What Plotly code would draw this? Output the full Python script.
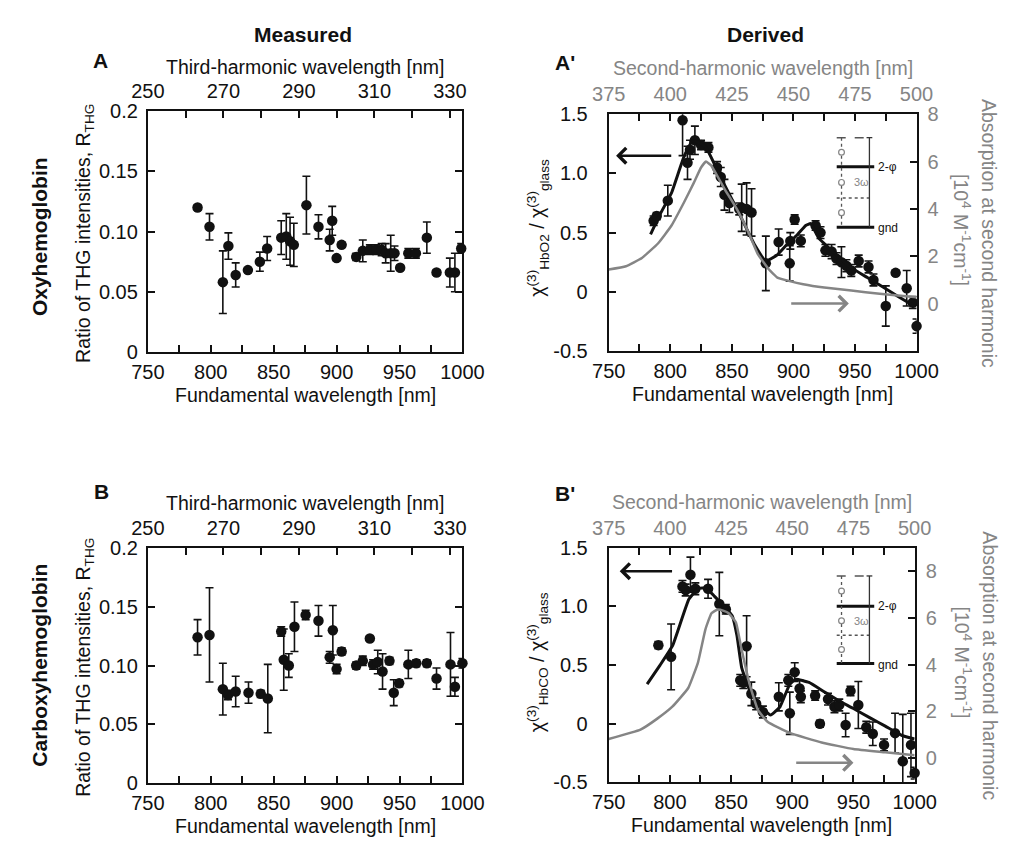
import plotly.graph_objects as go

W, H = 1029, 848
def px(x):
    return x / W
def py(y):
    return 1 - y / H

FONT = "Liberation Sans, Arial, Helvetica, sans-serif"
GRAY = "#858585"
BLACK = "#111111"
TICK = 20
TITLE = 19.5

# ---------------- data ----------------
# Panel A : oxyhemoglobin, measured THG ratio
oxy_fund = [789.5, 799, 809.6, 814, 819.8, 829.5, 839, 844.8, 856, 860, 863, 866, 876,
            885.6, 894.5, 896.5, 900, 904, 915.6, 920.8, 926.4, 931.5, 935.8, 939, 943,
            946, 950.5, 957, 963, 971.7, 979.4, 990, 994, 999]
oxy_ratio = [0.120, 0.104, 0.058, 0.088, 0.064, 0.068, 0.075, 0.086, 0.095, 0.096, 0.092,
             0.089, 0.122, 0.104, 0.093, 0.109, 0.078, 0.089, 0.079, 0.084, 0.085, 0.085,
             0.085, 0.082, 0.082, 0.082, 0.070, 0.082, 0.082, 0.095, 0.066, 0.066, 0.066, 0.086]
oxy_err = [0.002, 0.011, 0.026, 0.011, 0.010, 0.002, 0.008, 0.010, 0.014, 0.019, 0.020,
           0.018, 0.024, 0.010, 0.009, 0.012, 0.002, 0.002, 0.003, 0.009, 0.004, 0.004,
           0.005, 0.008, 0.015, 0.006, 0.002, 0.004, 0.004, 0.013, 0.002, 0.012, 0.016, 0.004]

# Panel B : carboxyhemoglobin, measured THG ratio
co_fund = [789.5, 799, 809.6, 813.7, 819.8, 830, 839.7, 845.3, 856, 858, 862, 866.5, 875.4,
           885.6, 894.5, 897, 900, 904, 915.6, 920.8, 926.4, 929, 932.7, 936.5, 942, 945.4,
           949.7, 957, 963.3, 971.7, 979.4, 990.5, 994, 1000]
co_ratio = [0.124, 0.126, 0.080, 0.075, 0.078, 0.077, 0.076, 0.072, 0.129, 0.105, 0.100,
            0.133, 0.143, 0.138, 0.107, 0.130, 0.097, 0.112, 0.100, 0.104, 0.123, 0.101,
            0.103, 0.095, 0.104, 0.077, 0.085, 0.101, 0.102, 0.102, 0.089, 0.101, 0.082, 0.102]
co_err = [0.015, 0.040, 0.022, 0.004, 0.013, 0.009, 0.003, 0.029, 0.004, 0.026, 0.010,
          0.021, 0.004, 0.013, 0.005, 0.021, 0.004, 0.003, 0.003, 0.004, 0.002, 0.004,
          0.010, 0.015, 0.003, 0.011, 0.003, 0.012, 0.003, 0.003, 0.009, 0.027, 0.008, 0.004]

# Panel A' : chi(3) HbO2 / chi(3) glass
oxy_chi_fund = [786.5, 789, 798, 810, 814, 816, 820, 825, 831, 838, 841, 844, 848, 856, 858,
                862, 866, 877.6, 888, 897, 897.5, 901, 906, 918, 922, 926, 931, 935, 939,
                943, 947, 953, 961, 965, 975, 983, 992, 997, 1000]
oxy_chi = [0.60, 0.64, 0.77, 1.45, 1.09, 1.20, 1.28, 1.24, 1.22, 1.05, 0.97, 0.82, 0.75,
           0.70, 0.71, 0.70, 0.67, 0.24, 0.42, 0.24, 0.43, 0.61, 0.43, 0.56, 0.50, 0.35,
           0.34, 0.28, 0.25, 0.22, 0.18, 0.26, 0.21, 0.10, -0.12, 0.16, 0.03, -0.09, -0.29]
oxy_chi_err = [0.04, 0.03, 0.13, 0.30, 0.14, 0.08, 0.12, 0.04, 0.04, 0.05, 0.08, 0.13, 0.08,
               0.05, 0.20, 0.22, 0.20, 0.23, 0.11, 0.15, 0.07, 0.04, 0.05, 0.04, 0.05, 0.05,
               0.06, 0.05, 0.13, 0.05, 0.05, 0.05, 0.05, 0.05, 0.17, 0.02, 0.15, 0.05, 0.06]
oxy_fit_fund = [784, 792, 801, 811, 818, 823, 829, 842, 855.5, 868.5, 877.6, 886.7, 894.5,
                903, 910, 914, 920.6, 933, 946.6, 960, 972.7, 985, 998.7]
oxy_fit = [0.485, 0.66, 0.836, 1.138, 1.275, 1.26, 1.22, 0.946, 0.67, 0.397, 0.26, 0.31,
           0.397, 0.48, 0.56, 0.576, 0.453, 0.33, 0.206, 0.12, 0.04, -0.04, -0.125]
oxy_abs_fund = [750, 764, 777, 790, 801, 811, 819, 825, 829, 833, 836, 844, 854, 864, 871,
                880, 887, 897, 908, 925, 947, 970, 1000]
oxy_abs = [1.44, 1.58, 1.93, 2.54, 3.30, 4.26, 5.09, 5.75, 6.00, 5.85, 5.60, 4.85, 4.00,
           2.95, 2.10, 1.45, 1.10, 0.95, 0.82, 0.68, 0.55, 0.42, 0.27]

# Panel B' : chi(3) HbCO / chi(3) glass
co_chi_fund = [790.6, 801, 810.3, 812.9, 816.8, 820.8, 831.2, 840.4, 845.7, 857.5, 860,
               862.7, 866.6, 870.5, 876, 889, 896.8, 898, 902, 906, 907, 918.7, 922.6,
               929.2, 934.5, 938.4, 943.6, 947.6, 954, 960.5, 965.8, 975, 984, 990.3, 997, 1000]
co_chi = [0.67, 0.57, 1.17, 1.14, 1.27, 1.15, 1.15, 1.02, 0.975, 0.37, 0.35, 0.66, 0.255,
          0.17, 0.10, 0.23, 0.37, 0.09, 0.44, 0.30, 0.23, 0.24, 0.0, 0.21, 0.145, 0.16,
          -0.01, 0.28, 0.16, -0.03, -0.085, -0.18, -0.08, -0.32, -0.18, -0.42]
co_chi_err = [0.03, 0.28, 0.05, 0.05, 0.15, 0.05, 0.08, 0.27, 0.04, 0.05, 0.05, 0.26, 0.10,
              0.05, 0.05, 0.12, 0.05, 0.18, 0.08, 0.07, 0.05, 0.04, 0.03, 0.05, 0.05, 0.05,
              0.10, 0.04, 0.20, 0.05, 0.10, 0.05, 0.17, 0.40, 0.27, 0.05]
co_fit_fund = [781.4, 792, 802.4, 815.5, 823.4, 830, 836.5, 844.3, 850.9, 854.8, 858.7,
               865.3, 871.9, 882.3, 890, 898, 903, 913.7, 925, 937.4, 950, 963.6, 976,
               989.8, 1000]
co_fit = [0.338, 0.50, 0.67, 1.06, 1.154, 1.154, 1.085, 1.0, 0.92, 0.753, 0.477, 0.283,
          0.172, 0.075, 0.145, 0.338, 0.38, 0.352, 0.28, 0.2, 0.13, 0.05, -0.02, -0.1, -0.13]
co_abs_fund = [750, 776, 790, 802, 815, 823, 829, 834, 839, 844, 848, 854, 858, 865, 872,
               880, 898, 924, 950, 976, 1000]
co_abs = [0.82, 1.22, 1.70, 2.20, 3.00, 4.10, 5.50, 6.20, 6.36, 6.30, 6.20, 5.80, 4.80,
          3.20, 2.05, 1.55, 1.08, 0.67, 0.39, 0.25, 0.12]

# tick labels
ratio_ticks = [0, 0.05, 0.10, 0.15, 0.2]
ratio_text = ["0", "0.05", "0.10", "0.15", "0.2"]
chi_ticks = [-0.5, 0, 0.5, 1.0, 1.5]
chi_text = ["-0.5", "0", "0.5", "1.0", "1.5"]
abs_ticks = [0, 2, 4, 6, 8]

# ---------------- figure ----------------
fig = go.Figure()

def points(x, y, e, xa, ya):
    fig.add_trace(go.Scatter(x=x, y=y, mode="markers", xaxis=xa, yaxis=ya,
                             marker=dict(size=10, color=BLACK, opacity=0),
                             error_y=dict(type="data", array=e, color=BLACK,
                                          thickness=1.6, width=4),
                             showlegend=False, hoverinfo="skip"))
    fig.add_trace(go.Scatter(x=x, y=y, mode="markers", xaxis=xa, yaxis=ya,
                             marker=dict(size=10.5, color=BLACK), cliponaxis=False,
                             showlegend=False))

def line(x, y, xa, ya, color, width):
    fig.add_trace(go.Scatter(x=x, y=y, mode="lines", xaxis=xa, yaxis=ya,
                             line=dict(color=color, width=width, shape="spline", smoothing=0.35),
                             showlegend=False))

def empty(xa, ya):
    fig.add_trace(go.Scatter(x=[], y=[], xaxis=xa, yaxis=ya, showlegend=False))

# A
points(oxy_fund, oxy_ratio, oxy_err, "x", "y")
empty("x2", "y")
# A'
line(oxy_abs_fund, oxy_abs, "x3", "y3", GRAY, 2.5)
points(oxy_chi_fund, oxy_chi, oxy_chi_err, "x3", "y2")
line(oxy_fit_fund, oxy_fit, "x3", "y2", BLACK, 3)
empty("x4", "y2")
# B
points(co_fund, co_ratio, co_err, "x5", "y4")
empty("x6", "y4")
# B'
line(co_abs_fund, co_abs, "x7", "y6", GRAY, 2.5)
points(co_chi_fund, co_chi, co_chi_err, "x7", "y5")
line(co_fit_fund, co_fit, "x7", "y5", BLACK, 3)
empty("x8", "y5")

def ax(**kw):
    d = dict(showline=True, linecolor=BLACK, linewidth=2, ticks="inside", ticklen=7,
             tickwidth=1.5, tickcolor=BLACK, showgrid=False, zeroline=False,
             tickfont=dict(family=FONT, size=TICK, color=BLACK), fixedrange=True)
    d.update(kw)
    return d

def minor(step):
    return dict(ticks="inside", ticklen=7, tickwidth=1.5, tickcolor=BLACK, dtick=step,
                showgrid=False)

def bottom(dom, anchor):
    return ax(domain=[px(dom[0]), px(dom[1])], anchor=anchor, range=[750, 1000],
              tick0=750, dtick=50, minor=minor(25), ticklabelstandoff=1)

def top_th(over, anchor):
    return ax(overlaying=over, anchor=anchor, side="top", range=[250, 1000 / 3],
              tick0=250, dtick=20, minor=minor(10), ticklabelstandoff=3)

def top_sh(over, anchor):
    return ax(overlaying=over, anchor=anchor, side="top", range=[375, 500],
              tick0=375, dtick=25, minor=minor(12.5), ticklabelstandoff=3,
              tickfont=dict(family=FONT, size=TICK, color=GRAY))

def left_ratio(dom, anchor):
    return ax(domain=[py(dom[1]), py(dom[0])], anchor=anchor, range=[0, 0.2],
              tickvals=ratio_ticks, ticktext=ratio_text, mirror="ticks", ticklabelstandoff=4)

def left_chi(dom, anchor):
    return ax(domain=[py(dom[1]), py(dom[0])], anchor=anchor, range=[-0.5, 1.5],
              tickvals=chi_ticks, ticktext=chi_text, ticklabelstandoff=15)

def right_abs(over, anchor, rng):
    return ax(overlaying=over, anchor=anchor, side="right", range=rng,
              tickvals=abs_ticks, ticklabelstandoff=5,
              tickfont=dict(family=FONT, size=TICK, color=GRAY))

A = (136, 463, 103, 350)
AP = (615, 935, 106, 349)
B = (136, 463, 551, 793)
BP = (615, 933, 551, 792)

fig.update_layout(
    xaxis=bottom(A[:2], "y"), xaxis2=top_th("x", "y"), yaxis=left_ratio(A[2:], "x"),
    xaxis3=bottom(AP[:2], "y2"), xaxis4=top_sh("x3", "y2"),
    yaxis2=left_chi(AP[2:], "x3"), yaxis3=right_abs("y2", "x3", [-2, 8]),
    xaxis5=bottom(B[:2], "y4"), xaxis6=top_th("x5", "y4"), yaxis4=left_ratio(B[2:], "x5"),
    xaxis7=bottom(BP[:2], "y5"), xaxis8=top_sh("x7", "y5"),
    yaxis5=left_chi(BP[2:], "x7"), yaxis6=right_abs("y5", "x7", [-1.04, 9.0]),
)

ann = []
def text(t, x, y, size=TITLE, color=BLACK, bold=False, angle=0, xanchor="center"):
    if bold:
        t = "<b>" + t + "</b>"
    ann.append(dict(text=t, x=px(x), y=py(y), xref="paper", yref="paper", showarrow=False,
                    xanchor=xanchor, yanchor="middle", textangle=angle,
                    font=dict(family=FONT, size=size, color=color)))

# headers
text("Measured", 297, 24, size=21, bold=True)
text("Derived", 778, 24, size=21, bold=True)
text("Oxyhemoglobin", 24, 232, size=21, bold=True, angle=-90)
text("Carboxyhemoglobin", 23, 672, size=21, bold=True, angle=-90)
text("A", 87, 51, size=21, bold=True)
text("A'", 570, 53, size=21, bold=True)
text("B", 88, 493, size=21, bold=True)
text("B'", 570, 495, size=21, bold=True)

# axis titles
for (x0, x1, y0, y1), kind in [(A, "th"), (B, "th"), (AP, "sh"), (BP, "sh")]:
    cx = (x0 + x1) / 2
    cy = (y0 + y1) / 2
    if kind == "th":
        text("Third-harmonic wavelength [nm]", cx, y0 - 46)
        text("Ratio of THG intensities, R<sub>THG</sub>", 70, cy + 2, angle=-90)
    else:
        text("Second-harmonic wavelength [nm]", cx, y0 - 47, color=GRAY)
        text("Absorption at second harmonic", 1011, cy + 1, color=GRAY, angle=90)
        text("[10<sup>4</sup> M<sup>-1</sup>cm<sup>-1</sup>]", 983, cy - 3, color=GRAY, angle=90)
    text("Fundamental wavelength [nm]", cx, y1 + 44)

text("χ<sup>(3)</sup><sub>HbO2</sub> / χ<sup>(3)</sup><sub>glass</sub>", 541, 222, angle=-90)
text("χ<sup>(3)</sup><sub>HbCO</sub> / χ<sup>(3)</sup><sub>glass</sub>", 541, 668, angle=-90)

# arrows indicating which axis each curve belongs to
def arrow(x_tail, x_head, yv, xa, ya, color):
    ann.append(dict(x=x_head, y=yv, ax=x_tail, ay=yv, xref=xa, yref=ya, axref=xa, ayref=ya,
                    text="", showarrow=True, arrowhead=4, arrowsize=1.2, arrowwidth=2.5,
                    arrowcolor=color))
arrow(802, 756, 1.15, "x3", "y2", BLACK)
arrow(897, 945, 0.0, "x3", "y3", GRAY)
arrow(803, 759, 1.30, "x7", "y5", BLACK)
arrow(902, 950, -0.2, "x7", "y6", GRAY)

# energy-level inset
shapes = []
def seg(x0, y0, x1, y1, color=BLACK, width=1.5, dash="solid"):
    shapes.append(dict(type="line", xref="paper", yref="paper", x0=px(x0), y0=py(y0),
                       x1=px(x1), y1=py(y1), line=dict(color=color, width=width, dash=dash)))

def inset(ytop, y2p, ymid, ygnd):
    xl, xr = 852, 891
    seg(xl, ytop, xr - 3, ytop, color="#555555", width=1.5, dash="dash")
    seg(xl, y2p, xr, y2p, width=3)
    seg(xl, ymid, xr - 3, ymid, color="#555555", width=1.5, dash="dot")
    seg(xl, ygnd, xr, ygnd, width=3)
    seg(886, ytop, 886, ygnd, color="#333333", width=1.3)
    seg(883, ytop, 889, ytop, color="#333333", width=1.3)
    seg(857, ytop, 857, ygnd, color="#555555", width=1.3, dash="dot")
    for a, b in [(ygnd, ymid), (ymid, y2p), (y2p, ytop)]:
        c = (a + b) / 2
        shapes.append(dict(type="circle", xref="paper", yref="paper",
                           x0=px(854), x1=px(860), y0=py(c + 3), y1=py(c - 3),
                           line=dict(color=GRAY, width=1.2), fillcolor="white"))
    text("2-φ", 893, y2p, size=12, xanchor="left")
    text("gnd", 893, ygnd + 1, size=12, xanchor="left")
    text("3ω", 878, (y2p + ymid) / 2, size=11, color=GRAY)

inset(130, 160, 192, 222)
inset(580, 611, 641, 670)

fig.update_layout(width=W, height=H, margin=dict(l=0, r=0, t=0, b=0),
                  paper_bgcolor="white", plot_bgcolor="white",
                  annotations=ann, shapes=shapes, showlegend=False,
                  font=dict(family=FONT, size=TICK, color=BLACK))

fig.write_html("out.html")
